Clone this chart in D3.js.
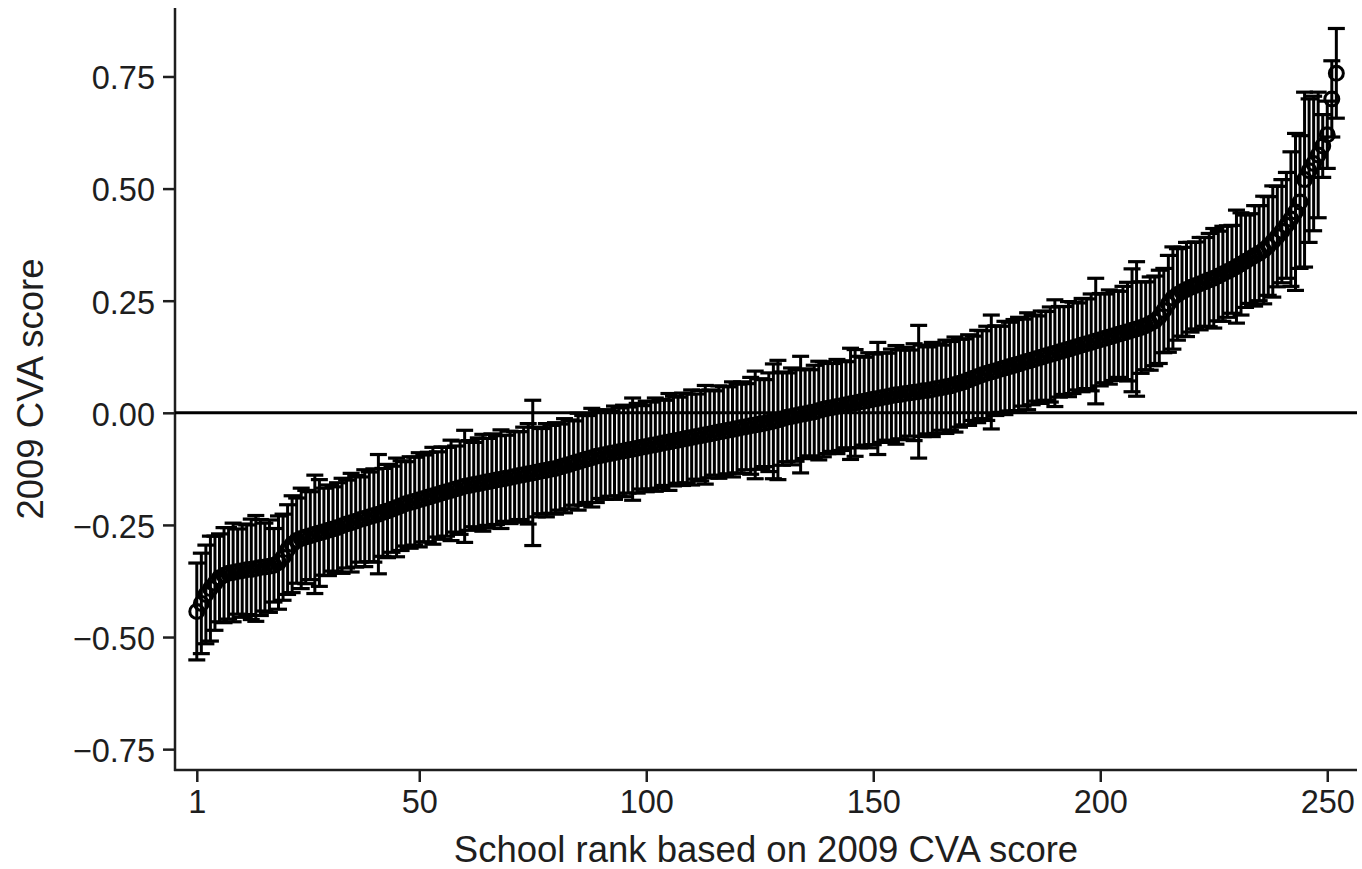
<!DOCTYPE html>
<html>
<head>
<meta charset="utf-8">
<title>2009 CVA score by school rank</title>
<script src="https://d3js.org/d3.v7.min.js"></script>
<style>
  body { margin: 0; background: #fff; }
  text { font-family: "Liberation Sans", Arial, Helvetica, sans-serif; fill: #1e1e1e; }
</style>
</head>
<body>
<div id="chart"></div>
<script>
    // point estimate of the 2009 CVA score, schools sorted by rank (1..252)
    var score = [
        -0.443, -0.425, -0.405, -0.392, -0.380, -0.368, -0.362, -0.358, -0.356, -0.354,
        -0.352, -0.350, -0.349, -0.347, -0.345, -0.344, -0.342, -0.340, -0.334, -0.322,
        -0.305, -0.293, -0.285, -0.280, -0.277, -0.274, -0.271, -0.268, -0.265, -0.262,
        -0.259, -0.256, -0.252, -0.248, -0.245, -0.242, -0.238, -0.235, -0.232, -0.229,
        -0.226, -0.222, -0.219, -0.215, -0.211, -0.207, -0.203, -0.200, -0.197, -0.194,
        -0.191, -0.188, -0.185, -0.182, -0.179, -0.176, -0.173, -0.170, -0.167, -0.164,
        -0.162, -0.160, -0.158, -0.156, -0.154, -0.152, -0.150, -0.148, -0.146, -0.144,
        -0.142, -0.140, -0.138, -0.136, -0.134, -0.132, -0.130, -0.128, -0.126, -0.124,
        -0.121, -0.118, -0.115, -0.112, -0.109, -0.106, -0.103, -0.100, -0.097, -0.095,
        -0.093, -0.091, -0.089, -0.087, -0.085, -0.083, -0.081, -0.079, -0.077, -0.075,
        -0.073, -0.071, -0.069, -0.067, -0.065, -0.063, -0.061, -0.059, -0.057, -0.055,
        -0.053, -0.051, -0.049, -0.047, -0.045, -0.043, -0.041, -0.039, -0.037, -0.035,
        -0.033, -0.031, -0.029, -0.027, -0.025, -0.023, -0.021, -0.019, -0.016, -0.013,
        -0.010, -0.008, -0.006, -0.004, -0.002, 0.000, 0.002, 0.005, 0.008, 0.010,
        0.012, 0.014, 0.016, 0.018, 0.020, 0.022, 0.024, 0.026, 0.028, 0.030,
        0.032, 0.034, 0.036, 0.038, 0.040, 0.041, 0.043, 0.044, 0.046, 0.047,
        0.049, 0.050, 0.052, 0.054, 0.056, 0.058, 0.060, 0.063, 0.066, 0.069,
        0.073, 0.077, 0.081, 0.085, 0.088, 0.091, 0.094, 0.097, 0.100, 0.103,
        0.106, 0.109, 0.112, 0.115, 0.118, 0.121, 0.124, 0.127, 0.130, 0.133,
        0.136, 0.139, 0.142, 0.145, 0.148, 0.151, 0.154, 0.157, 0.160, 0.163,
        0.166, 0.169, 0.172, 0.175, 0.178, 0.181, 0.184, 0.187, 0.190, 0.194,
        0.199, 0.205, 0.214, 0.228, 0.243, 0.256, 0.264, 0.270, 0.275, 0.280,
        0.284, 0.288, 0.292, 0.296, 0.300, 0.305, 0.310, 0.315, 0.320, 0.326,
        0.332, 0.338, 0.344, 0.350, 0.356, 0.363, 0.372, 0.382, 0.393, 0.405,
        0.418, 0.432, 0.448, 0.470, 0.520, 0.540, 0.556, 0.575, 0.595, 0.620,
        0.700, 0.757
    ];

    // half width of the confidence interval for each school
    var ciHalf = [
        0.108, 0.112, 0.110, 0.117, 0.105, 0.098, 0.106, 0.102, 0.110, 0.095,
        0.104, 0.100, 0.112, 0.118, 0.107, 0.098, 0.103, 0.082, 0.104, 0.096,
        0.100, 0.108, 0.095, 0.112, 0.104, 0.098, 0.132, 0.119, 0.097, 0.101,
        0.094, 0.100, 0.106, 0.098, 0.110, 0.102, 0.095, 0.108, 0.100, 0.104,
        0.133, 0.098, 0.104, 0.096, 0.110, 0.100, 0.094, 0.102, 0.098, 0.105,
        0.097, 0.100, 0.108, 0.095, 0.103, 0.099, 0.112, 0.096, 0.104, 0.125,
        0.100, 0.094, 0.102, 0.108, 0.097, 0.105, 0.099, 0.110, 0.096, 0.103,
        0.100, 0.098, 0.106, 0.112, 0.162, 0.100, 0.095, 0.104, 0.098, 0.102,
        0.096, 0.105, 0.099, 0.094, 0.108, 0.100, 0.097, 0.110, 0.103, 0.096,
        0.100, 0.095, 0.104, 0.098, 0.102, 0.096, 0.114, 0.100, 0.093, 0.101,
        0.097, 0.104, 0.099, 0.095, 0.108, 0.100, 0.096, 0.103, 0.099, 0.106,
        0.095, 0.101, 0.110, 0.098, 0.094, 0.103, 0.100, 0.097, 0.106, 0.099,
        0.102, 0.096, 0.108, 0.120, 0.101, 0.097, 0.110, 0.128, 0.133, 0.104,
        0.099, 0.108, 0.102, 0.130, 0.100, 0.096, 0.104, 0.110, 0.106, 0.101,
        0.098, 0.105, 0.100, 0.096, 0.124, 0.119, 0.102, 0.098, 0.106, 0.101,
        0.125, 0.100, 0.097, 0.104, 0.110, 0.099, 0.103, 0.096, 0.108, 0.148,
        0.102, 0.097, 0.105, 0.100, 0.095, 0.104, 0.099, 0.106, 0.098, 0.096,
        0.101, 0.094, 0.103, 0.098, 0.105, 0.127, 0.100, 0.096, 0.104, 0.099,
        0.102, 0.104, 0.097, 0.108, 0.100, 0.095, 0.103, 0.099, 0.106, 0.119,
        0.101, 0.098, 0.106, 0.102, 0.097, 0.104, 0.100, 0.108, 0.140, 0.103,
        0.099, 0.105, 0.100, 0.096, 0.104, 0.110, 0.137, 0.150, 0.102, 0.098,
        0.104, 0.100, 0.104, 0.094, 0.108, 0.114, 0.102, 0.099, 0.105, 0.100,
        0.097, 0.103, 0.099, 0.104, 0.111, 0.100, 0.106, 0.102, 0.098, 0.126,
        0.114, 0.103, 0.100, 0.112, 0.106, 0.120, 0.110, 0.124, 0.112, 0.115,
        0.118, 0.150, 0.175, 0.148, 0.195, 0.160, 0.150, 0.140, 0.070, 0.075,
        0.085, 0.100
    ];

    var xTicks = [1, 50, 100, 150, 200, 250];
    var yTicks = [-0.75, -0.50, -0.25, 0.00, 0.25, 0.50, 0.75];
    var xTitle = "School rank based on 2009 CVA score";
    var yTitle = "2009 CVA score";

    var width = 1362, height = 869;
    var plotLeft = 175, plotRight = 1357, plotTop = 8, plotBottom = 770;

    var schools = score.map(function (s, i) {
        return { rank: i + 1, est: s, lo: s - ciHalf[i], hi: s + ciHalf[i] };
    });

    var x = d3.scaleLinear().domain([-3.8, 256.55]).range([plotLeft, plotRight]);
    var y = d3.scaleLinear().domain([-0.7965, 0.9027]).range([plotBottom, plotTop]);

    var svg = d3.select("#chart").append("svg")
        .attr("width", width)
        .attr("height", height);

    // axes
    var yAxis = d3.axisLeft(y).tickValues(yTicks).tickSize(12).tickPadding(8)
        .tickFormat(d3.format(".2f"));
    var xAxis = d3.axisBottom(x).tickValues(xTicks).tickSize(12).tickPadding(8)
        .tickFormat(d3.format("d"));

    var gy = svg.append("g").attr("transform", "translate(" + plotLeft + ",0)").call(yAxis);
    var gx = svg.append("g").attr("transform", "translate(0," + plotBottom + ")").call(xAxis);

    [gx, gy].forEach(function (g) {
        g.select(".domain").remove();
        g.selectAll(".tick line").attr("stroke", "#1e1e1e").attr("stroke-width", 2.5);
        g.selectAll(".tick text").attr("font-size", 32.5).attr("fill", "#1e1e1e")
            .attr("font-family", "Liberation Sans, Arial, sans-serif");
    });
    gy.selectAll(".tick text").attr("dy", "0.38em");
    gx.selectAll(".tick text").attr("dy", "0.72em");

    // axis lines
    svg.append("line")
        .attr("x1", plotLeft).attr("x2", plotLeft)
        .attr("y1", plotTop).attr("y2", plotBottom + 1)
        .attr("stroke", "#1e1e1e").attr("stroke-width", 2.5);
    svg.append("line")
        .attr("x1", plotLeft - 1).attr("x2", plotRight)
        .attr("y1", plotBottom).attr("y2", plotBottom)
        .attr("stroke", "#1e1e1e").attr("stroke-width", 2.5);

    // reference line at zero
    svg.append("line")
        .attr("x1", plotLeft).attr("x2", plotRight)
        .attr("y1", y(0)).attr("y2", y(0))
        .attr("stroke", "#000").attr("stroke-width", 3);

    // confidence intervals
    var cap = 8.5;
    var bars = svg.append("g").attr("stroke", "#000");
    bars.selectAll("line.ci").data(schools).enter().append("line")
        .attr("class", "ci")
        .attr("stroke-width", 3)
        .attr("x1", function (d) { return x(d.rank); })
        .attr("x2", function (d) { return x(d.rank); })
        .attr("y1", function (d) { return y(d.lo); })
        .attr("y2", function (d) { return y(d.hi); });
    bars.selectAll("line.capHi").data(schools).enter().append("line")
        .attr("class", "capHi")
        .attr("stroke-width", 3.2)
        .attr("x1", function (d) { return x(d.rank) - cap; })
        .attr("x2", function (d) { return x(d.rank) + cap; })
        .attr("y1", function (d) { return y(d.hi); })
        .attr("y2", function (d) { return y(d.hi); });
    bars.selectAll("line.capLo").data(schools).enter().append("line")
        .attr("class", "capLo")
        .attr("stroke-width", 3.2)
        .attr("x1", function (d) { return x(d.rank) - cap; })
        .attr("x2", function (d) { return x(d.rank) + cap; })
        .attr("y1", function (d) { return y(d.lo); })
        .attr("y2", function (d) { return y(d.lo); });

    // point estimates
    svg.append("g").selectAll("circle").data(schools).enter().append("circle")
        .attr("cx", function (d) { return x(d.rank); })
        .attr("cy", function (d) { return y(d.est); })
        .attr("r", 7)
        .attr("fill", "none")
        .attr("stroke", "#000")
        .attr("stroke-width", 3);

    // titles
    svg.append("text")
        .attr("x", (plotLeft + plotRight) / 2)
        .attr("y", 862)
        .attr("text-anchor", "middle")
        .attr("font-size", 36.5)
        .text(xTitle);

    svg.append("text")
        .attr("transform", "translate(43," + ((plotTop + plotBottom) / 2) + ") rotate(-90)")
        .attr("text-anchor", "middle")
        .attr("font-size", 36.5)
        .text(yTitle);
</script>
</body>
</html>
